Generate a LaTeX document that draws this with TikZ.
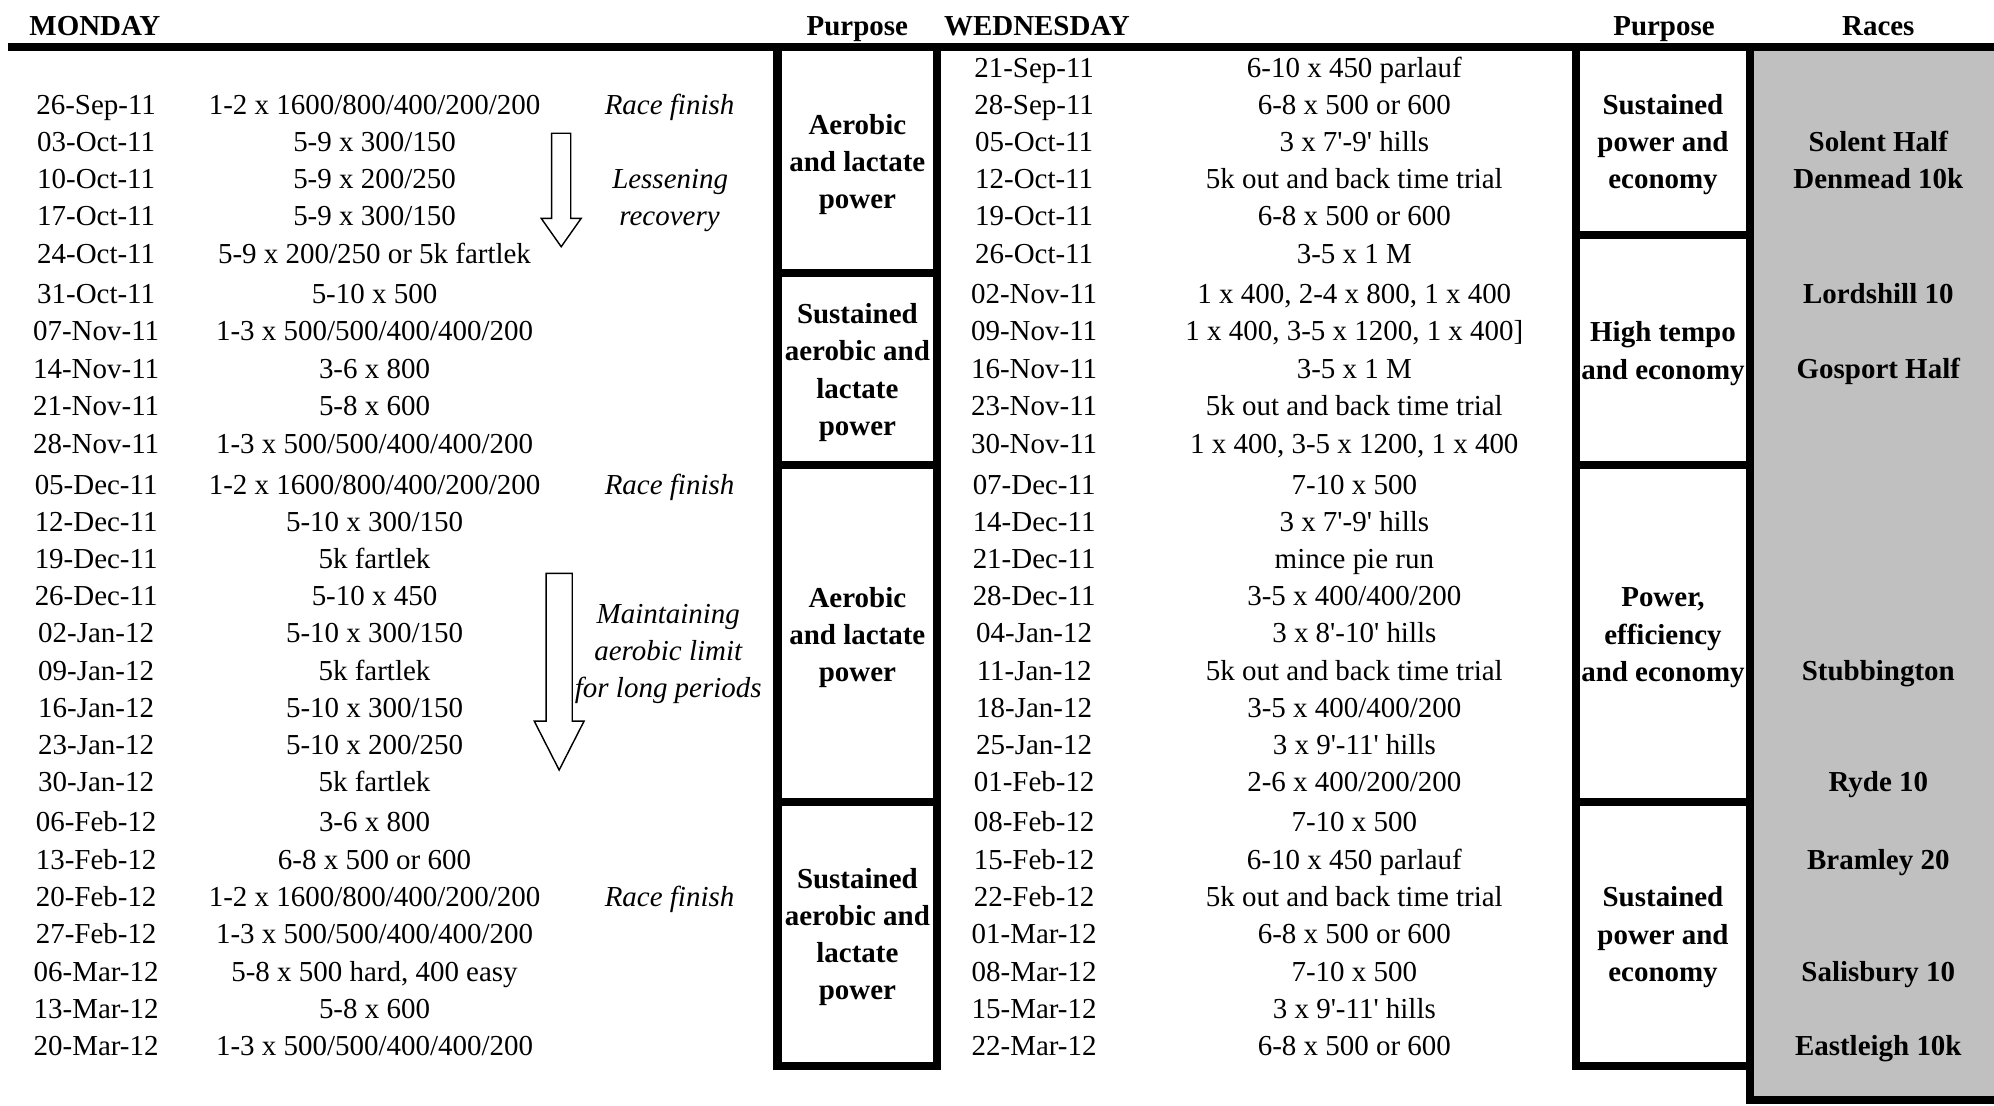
\documentclass[tikz,border=0pt]{standalone}
\usepackage{fontspec}
\setmainfont{Liberation Serif}
\usepackage{xcolor}
\definecolor{racegray}{RGB}{192,192,192}
\newcommand{\tabfont}{\fontsize{8.1}{10.4}\selectfont}
\newcommand{\q}{\textquotesingle}
\tikzset{%
	cell/.style={
		inner sep=0pt,
		anchor=base,
		font=\tabfont
	},
	heading/.style={cell, font=\tabfont\bfseries},
	remark/.style={cell, font=\tabfont\itshape},
	purpose/.style={
		inner sep=0pt,
		align=center,
		font=\tabfont\bfseries
	},
	race/.style={heading},
	frame/.style={line width=0.79mm, line join=miter},
	hollow arrow/.style={draw, fill=white, line width=0.4pt, line join=miter},
}

\begin{document}
\begin{tikzpicture}[x=0.125mm, y=-0.125mm]
			\useasboundingbox (0,0) rectangle (1568,869);
			
			% races column and frames
			\fill[racegray] (1376.2,37) rectangle (1600,865.3);
			\draw[frame] (6,37) -- (1600,37);
			\draw[frame] (1376.2,37) -- (1376.2,865.3) -- (1600,865.3);
			\draw[frame] (611.4,37) -- (611.4,838) -- (737,838) -- (737,37);
			\draw[frame] (611.4,215) -- (737,215);
			\draw[frame] (611.4,365.7) -- (737,365.7);
			\draw[frame] (611.4,630.8) -- (737,630.8);
			\draw[frame] (1239.2,37) -- (1239.2,838) -- (1376.2,838);
			\draw[frame] (1239.2,184.5) -- (1376.2,184.5);
			\draw[frame] (1239.2,365.7) -- (1376.2,365.7);
			\draw[frame] (1239.2,630.8) -- (1376.2,630.8);
			
			% headings
			\node[heading, anchor=base west] (hMon) at (22.6,28.3) {MONDAY};
			\node[heading] (hPur1) at (674.2,28.3) {Purpose};
			\node[heading, anchor=base west] (hWed) at (741.8,28.3) {WEDNESDAY};
			\node[heading] (hPur2) at (1308.5,28.3) {Purpose};
			\node[heading] (hRaces) at (1477,28.3) {Races};
			
			% monday
			\node[cell] (md1) at (75.6,90) {26-Sep-11};
			\node[cell] (md2) at (75.6,119) {03-Oct-11};
			\node[cell] (md3) at (75.6,148) {10-Oct-11};
			\node[cell] (md4) at (75.6,177.5) {17-Oct-11};
			\node[cell] (md5) at (75.6,207) {24-Oct-11};
			\node[cell] (md6) at (75.6,239) {31-Oct-11};
			\node[cell] (md7) at (75.6,268) {07-Nov-11};
			\node[cell] (md8) at (75.6,297.5) {14-Nov-11};
			\node[cell] (md9) at (75.6,327) {21-Nov-11};
			\node[cell] (md10) at (75.6,356.5) {28-Nov-11};
			\node[cell] (md11) at (75.6,389) {05-Dec-11};
			\node[cell] (md12) at (75.6,418) {12-Dec-11};
			\node[cell] (md13) at (75.6,447) {19-Dec-11};
			\node[cell] (md14) at (75.6,476) {26-Dec-11};
			\node[cell] (md15) at (75.6,505.5) {02-Jan-12};
			\node[cell] (md16) at (75.6,535) {09-Jan-12};
			\node[cell] (md17) at (75.6,564) {16-Jan-12};
			\node[cell] (md18) at (75.6,593) {23-Jan-12};
			\node[cell] (md19) at (75.6,622.5) {30-Jan-12};
			\node[cell] (md20) at (75.6,654) {06-Feb-12};
			\node[cell] (md21) at (75.6,683.5) {13-Feb-12};
			\node[cell] (md22) at (75.6,713) {20-Feb-12};
			\node[cell] (md23) at (75.6,742) {27-Feb-12};
			\node[cell] (md24) at (75.6,771.5) {06-Mar-12};
			\node[cell] (md25) at (75.6,800.5) {13-Mar-12};
			\node[cell] (md26) at (75.6,830) {20-Mar-12};
			
			\node[cell] (mw1) at (294.5,90) {1-2 x 1600/800/400/200/200};
			\node[cell] (mw2) at (294.5,119) {5-9 x 300/150};
			\node[cell] (mw3) at (294.5,148) {5-9 x 200/250};
			\node[cell] (mw4) at (294.5,177.5) {5-9 x 300/150};
			\node[cell] (mw5) at (294.5,207) {5-9 x 200/250 or 5k fartlek};
			\node[cell] (mw6) at (294.5,239) {5-10 x 500};
			\node[cell] (mw7) at (294.5,268) {1-3 x 500/500/400/400/200};
			\node[cell] (mw8) at (294.5,297.5) {3-6 x 800};
			\node[cell] (mw9) at (294.5,327) {5-8 x 600};
			\node[cell] (mw10) at (294.5,356.5) {1-3 x 500/500/400/400/200};
			\node[cell] (mw11) at (294.5,389) {1-2 x 1600/800/400/200/200};
			\node[cell] (mw12) at (294.5,418) {5-10 x 300/150};
			\node[cell] (mw13) at (294.5,447) {5k fartlek};
			\node[cell] (mw14) at (294.5,476) {5-10 x 450};
			\node[cell] (mw15) at (294.5,505.5) {5-10 x 300/150};
			\node[cell] (mw16) at (294.5,535) {5k fartlek};
			\node[cell] (mw17) at (294.5,564) {5-10 x 300/150};
			\node[cell] (mw18) at (294.5,593) {5-10 x 200/250};
			\node[cell] (mw19) at (294.5,622.5) {5k fartlek};
			\node[cell] (mw20) at (294.5,654) {3-6 x 800};
			\node[cell] (mw21) at (294.5,683.5) {6-8 x 500 or 600};
			\node[cell] (mw22) at (294.5,713) {1-2 x 1600/800/400/200/200};
			\node[cell] (mw23) at (294.5,742) {1-3 x 500/500/400/400/200};
			\node[cell] (mw24) at (294.5,771.5) {5-8 x 500 hard, 400 easy};
			\node[cell] (mw25) at (294.5,800.5) {5-8 x 600};
			\node[cell] (mw26) at (294.5,830) {1-3 x 500/500/400/400/200};
			
			% monday remarks
			\node[remark] (rf1) at (526.5,90) {Race finish};
			\node[remark] (less) at (527,148) {Lessening};
			\node[remark] (reco) at (526.5,177.5) {recovery};
			\node[remark] (rf2) at (526.5,389) {Race finish};
			\node[remark, align=center, anchor=center] (maint) at (525.5,514.5) {Maintaining\\aerobic limit\\for long periods};
			\node[remark] (rf3) at (526.5,713) {Race finish};
			
			\draw[hollow arrow] (433.8,104.8) -- (448.8,104.8) -- (448.8,171.7) -- (457,171.7) -- (441.3,194) -- (425.6,171.7) -- (433.8,171.7) -- cycle;
			\draw[hollow arrow] (429.4,450.8) -- (450,450.8) -- (450,567) -- (459.3,567) -- (439.7,605.5) -- (420.1,567) -- (429.4,567) -- cycle;
			
			% purpose, first column
			\node[purpose] (pA) at (674.2,129.5) {Aerobic\\and lactate\\power};
			\node[purpose] (pB) at (674.2,293) {Sustained\\aerobic and\\lactate\\power};
			\node[purpose] (pC) at (674.2,501.5) {Aerobic\\and lactate\\power};
			\node[purpose] (pD) at (674.2,737) {Sustained\\aerobic and\\lactate\\power};
			
			% wednesday
			\node[cell] (wd0) at (813.2,60.8) {21-Sep-11};
			\node[cell] (wd1) at (813.2,90) {28-Sep-11};
			\node[cell] (wd2) at (813.2,119) {05-Oct-11};
			\node[cell] (wd3) at (813.2,148) {12-Oct-11};
			\node[cell] (wd4) at (813.2,177.5) {19-Oct-11};
			\node[cell] (wd5) at (813.2,207) {26-Oct-11};
			\node[cell] (wd6) at (813.2,239) {02-Nov-11};
			\node[cell] (wd7) at (813.2,268) {09-Nov-11};
			\node[cell] (wd8) at (813.2,297.5) {16-Nov-11};
			\node[cell] (wd9) at (813.2,327) {23-Nov-11};
			\node[cell] (wd10) at (813.2,356.5) {30-Nov-11};
			\node[cell] (wd11) at (813.2,389) {07-Dec-11};
			\node[cell] (wd12) at (813.2,418) {14-Dec-11};
			\node[cell] (wd13) at (813.2,447) {21-Dec-11};
			\node[cell] (wd14) at (813.2,476) {28-Dec-11};
			\node[cell] (wd15) at (813.2,505.5) {04-Jan-12};
			\node[cell] (wd16) at (813.2,535) {11-Jan-12};
			\node[cell] (wd17) at (813.2,564) {18-Jan-12};
			\node[cell] (wd18) at (813.2,593) {25-Jan-12};
			\node[cell] (wd19) at (813.2,622.5) {01-Feb-12};
			\node[cell] (wd20) at (813.2,654) {08-Feb-12};
			\node[cell] (wd21) at (813.2,683.5) {15-Feb-12};
			\node[cell] (wd22) at (813.2,713) {22-Feb-12};
			\node[cell] (wd23) at (813.2,742) {01-Mar-12};
			\node[cell] (wd24) at (813.2,771.5) {08-Mar-12};
			\node[cell] (wd25) at (813.2,800.5) {15-Mar-12};
			\node[cell] (wd26) at (813.2,830) {22-Mar-12};
			
			\node[cell] (ww0) at (1065,60.8) {6-10 x 450 parlauf};
			\node[cell] (ww1) at (1065,90) {6-8 x 500 or 600};
			\node[cell] (ww2) at (1065,119) {3 x 7\q-9\q{} hills};
			\node[cell] (ww3) at (1065,148) {5k out and back time trial};
			\node[cell] (ww4) at (1065,177.5) {6-8 x 500 or 600};
			\node[cell] (ww5) at (1065,207) {3-5 x 1 M};
			\node[cell] (ww6) at (1065,239) {1 x 400, 2-4 x 800, 1 x 400};
			\node[cell] (ww7) at (1065,268) {1 x 400, 3-5 x 1200, 1 x 400]};
			\node[cell] (ww8) at (1065,297.5) {3-5 x 1 M};
			\node[cell] (ww9) at (1065,327) {5k out and back time trial};
			\node[cell] (ww10) at (1065,356.5) {1 x 400, 3-5 x 1200, 1 x 400};
			\node[cell] (ww11) at (1065,389) {7-10 x 500};
			\node[cell] (ww12) at (1065,418) {3 x 7\q-9\q{} hills};
			\node[cell] (ww13) at (1065,447) {mince pie run};
			\node[cell] (ww14) at (1065,476) {3-5 x 400/400/200};
			\node[cell] (ww15) at (1065,505.5) {3 x 8\q-10\q{} hills};
			\node[cell] (ww16) at (1065,535) {5k out and back time trial};
			\node[cell] (ww17) at (1065,564) {3-5 x 400/400/200};
			\node[cell] (ww18) at (1065,593) {3 x 9\q-11\q{} hills};
			\node[cell] (ww19) at (1065,622.5) {2-6 x 400/200/200};
			\node[cell] (ww20) at (1065,654) {7-10 x 500};
			\node[cell] (ww21) at (1065,683.5) {6-10 x 450 parlauf};
			\node[cell] (ww22) at (1065,713) {5k out and back time trial};
			\node[cell] (ww23) at (1065,742) {6-8 x 500 or 600};
			\node[cell] (ww24) at (1065,771.5) {7-10 x 500};
			\node[cell] (ww25) at (1065,800.5) {3 x 9\q-11\q{} hills};
			\node[cell] (ww26) at (1065,830) {6-8 x 500 or 600};
			
			% purpose, second column
			\node[purpose] (pE) at (1307.7,113.5) {Sustained\\power and\\economy};
			\node[purpose] (pF) at (1307.7,278) {High tempo\\and economy};
			\node[purpose] (pG) at (1307.7,501.5) {Power,\\efficiency\\and economy};
			\node[purpose] (pH) at (1307.7,737) {Sustained\\power and\\economy};
			
			% races
			\node[race] (r1) at (1477,119) {Solent Half};
			\node[race] (r2) at (1477,148) {Denmead 10k};
			\node[race] (r3) at (1477,239) {Lordshill 10};
			\node[race] (r4) at (1477,297.5) {Gosport Half};
			\node[race] (r5) at (1477,535) {Stubbington};
			\node[race] (r6) at (1477,622.5) {Ryde 10};
			\node[race] (r7) at (1477,683.5) {Bramley 20};
			\node[race] (r8) at (1477,771.5) {Salisbury 10};
			\node[race] (r9) at (1477,830) {Eastleigh 10k};
			
		\end{tikzpicture}
\end{document}
